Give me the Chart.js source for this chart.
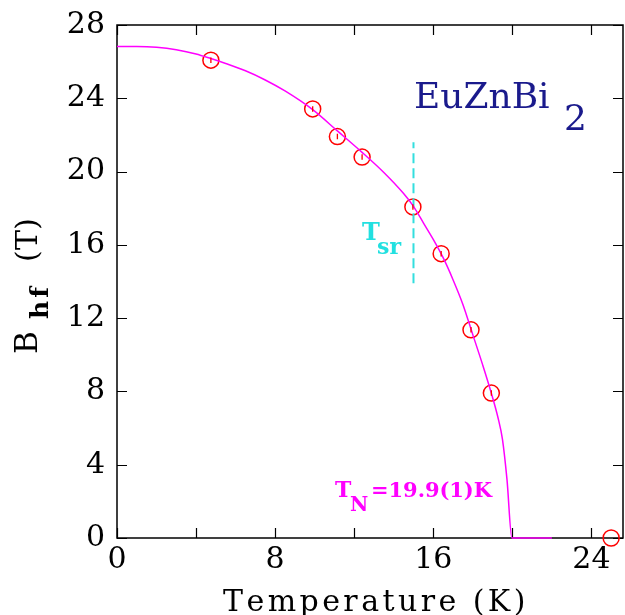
<!DOCTYPE html>
<html>
<head>
<meta charset="utf-8">
<script src="https://cdn.jsdelivr.net/npm/chart.js@4/dist/chart.umd.min.js"></script>
<style>
  body { margin: 0; background: #fff; }
  #wrap { width: 625px; height: 615px; }
</style>
</head>
<body>
<div id="wrap"><canvas id="bhfChart" width="625" height="615"></canvas></div>
<script>
// fit curve
const curveT = [0, 1, 2, 3, 4, 4.75, 5.5, 6.5, 7.5, 8.5, 9.9, 11.15, 12.4, 13.5, 14.5, 15.0, 15.5, 16.0, 16.5, 17.0, 17.5, 18.0, 18.5, 18.94, 19.28, 19.5, 19.73, 19.98, 22.0];
const curveB = [26.82, 26.82, 26.78, 26.65, 26.42, 26.17, 25.9, 25.5, 25.0, 24.4, 23.38, 22.22, 21.05, 19.95, 18.8, 18.1, 17.2, 16.3, 15.3, 14.1, 12.75, 11.1, 9.45, 7.9, 6.55, 5.4, 3.2, 0, 0];

// measured points
const ptT = [4.75, 9.9, 11.15, 12.4, 14.97, 16.4, 17.91, 18.94, 25.0];
const ptB = [26.08, 23.42, 21.91, 20.79, 18.07, 15.52, 11.36, 7.91, 0];
const ptErr = [0.15, 0.15, 0.15, 0.15, 0.15, 0.15, 0.15, 0.15, 0];

// spin reorientation marker
const tsrT = 15.0;
const tsrRange = [13.9, 21.6];

const xLabelTicks = [0, 8, 16, 24];
const xMarkTicks = [0, 4, 8, 12, 16, 20, 24];
const yTicks = [0, 4, 8, 12, 16, 20, 24, 28];

const SERIF = "'DejaVu Serif', serif";

function spacedText(ctx, text, x, y, width) {
    const chars = text.split('');
    const natural = ctx.measureText(text).width;
    const gap = chars.length > 1 ? (width - natural) / (chars.length - 1) : 0;
    let cx = x;
    chars.forEach(ch => {
        ctx.fillText(ch, cx, y);
        cx += ctx.measureText(ch).width + gap;
    });
}

const framePlugin = {
    id: 'frame',
    beforeDatasetsDraw(chart) {
        const { ctx, chartArea: a, scales } = chart;
        ctx.save();
        ctx.strokeStyle = '#000';
        ctx.lineWidth = 1.5;
        ctx.strokeRect(a.left, a.top, a.right - a.left, a.bottom - a.top);
        ctx.beginPath();
        xMarkTicks.forEach(v => {
            const px = Math.round(scales.x.getPixelForValue(v)) + 0.5;
            ctx.moveTo(px, a.bottom); ctx.lineTo(px, a.bottom - 10);
            ctx.moveTo(px, a.top); ctx.lineTo(px, a.top + 10);
        });
        yTicks.forEach(v => {
            const py = Math.round(scales.y.getPixelForValue(v)) + 0.5;
            ctx.moveTo(a.left, py); ctx.lineTo(a.left + 10, py);
            ctx.moveTo(a.right, py); ctx.lineTo(a.right - 10, py);
        });
        ctx.lineWidth = 1.2;
        ctx.stroke();
        ctx.restore();
    },
    afterDatasetsDraw(chart) {
        const { ctx, scales } = chart;
        // error bars
        ctx.save();
        ctx.strokeStyle = '#ff0000';
        ctx.lineWidth = 1.3;
        ctx.beginPath();
        ptT.forEach((t, i) => {
            if (!ptErr[i]) return;
            const px = scales.x.getPixelForValue(t);
            ctx.moveTo(px, scales.y.getPixelForValue(ptB[i] - ptErr[i]));
            ctx.lineTo(px, scales.y.getPixelForValue(ptB[i] + ptErr[i]));
        });
        ctx.stroke();
        ctx.restore();
    },
    afterDraw(chart) {
        const { ctx } = chart;
        ctx.save();
        ctx.fillStyle = '#000';
        ctx.textBaseline = 'alphabetic';

        // x title
        ctx.font = '30px ' + SERIF;
        spacedText(ctx, 'Temperature (K)', 223, 611, 300);

        // y title, rotated
        ctx.save();
        ctx.translate(37, 354);
        ctx.rotate(-Math.PI / 2);
        ctx.font = '31px ' + SERIF;
        ctx.fillText('B', 0, 0);
        ctx.font = 'bold 25px ' + SERIF;
        spacedText(ctx, 'hf', 35, 11, 32);
        ctx.font = '30px ' + SERIF;
        spacedText(ctx, '(T)', 92, 0, 44);
        ctx.restore();

        // compound name
        ctx.fillStyle = '#1a1a8c';
        ctx.font = '36px ' + SERIF;
        ctx.fillText('EuZnBi', 414, 108);
        ctx.fillText('2', 564, 130);

        // T_sr
        ctx.fillStyle = '#22e0e0';
        ctx.font = 'bold 24px ' + SERIF;
        ctx.fillText('T', 362, 240);
        ctx.font = 'bold 22px ' + SERIF;
        ctx.fillText('sr', 377, 254);

        // T_N
        ctx.fillStyle = '#ff00ff';
        ctx.font = 'bold 22px ' + SERIF;
        ctx.fillText('T', 335, 497);
        ctx.font = 'bold 20px ' + SERIF;
        ctx.fillText('N', 350, 511);
        ctx.font = 'bold 21px ' + SERIF;
        spacedText(ctx, '=19.9(1)K', 371, 497, 121);
        ctx.restore();
    }
};

const ctx = document.getElementById('bhfChart').getContext('2d');
new Chart(ctx, {
    type: 'scatter',
    data: {
        datasets: [
            {
                label: 'fit',
                type: 'line',
                data: curveT.map((t, i) => ({ x: t, y: curveB[i] })),
                borderColor: '#ff00ff',
                borderWidth: 1.5,
                pointRadius: 0,
                tension: 0.3,
                cubicInterpolationMode: 'monotone',
                fill: false,
                clip: false
            },
            {
                label: 'Tsr',
                type: 'line',
                data: tsrRange.map(b => ({ x: tsrT, y: b })),
                borderColor: '#33dede',
                borderWidth: 2,
                borderDash: [10, 5],
                pointRadius: 0,
                fill: false
            },
            {
                label: 'Bhf',
                data: ptT.map((t, i) => ({ x: t, y: ptB[i] })),
                pointStyle: 'circle',
                pointRadius: 8,
                pointBorderWidth: 1.5,
                borderColor: '#ff0000',
                backgroundColor: 'rgba(0,0,0,0)',
                clip: false
            }
        ]
    },
    options: {
        responsive: false,
        animation: false,
        layout: { autoPadding: false, padding: { top: 25, right: 2, left: 0, bottom: 0 } },
        plugins: { legend: { display: false }, tooltip: { enabled: false } },
        scales: {
            x: {
                type: 'linear',
                min: 0,
                max: 25.6,
                grid: { display: false, drawTicks: false },
                border: { display: false },
                afterBuildTicks: s => { s.ticks = xLabelTicks.map(v => ({ value: v })); },
                afterFit: s => { s.height = 77; s.paddingLeft = 0; s.paddingRight = 0; },
                ticks: {
                    color: '#000',
                    padding: 4,
                    maxRotation: 0,
                    font: { family: SERIF, size: 30 }
                }
            },
            y: {
                min: 0,
                max: 28,
                grid: { display: false, drawTicks: false },
                border: { display: false },
                afterBuildTicks: s => { s.ticks = yTicks.map(v => ({ value: v })); },
                afterFit: s => { s.width = 117; s.paddingTop = 0; s.paddingBottom = 0; },
                ticks: {
                    color: '#000',
                    padding: 12,
                    font: { family: SERIF, size: 30 }
                }
            }
        }
    },
    plugins: [framePlugin]
});
</script>
</body>
</html>
